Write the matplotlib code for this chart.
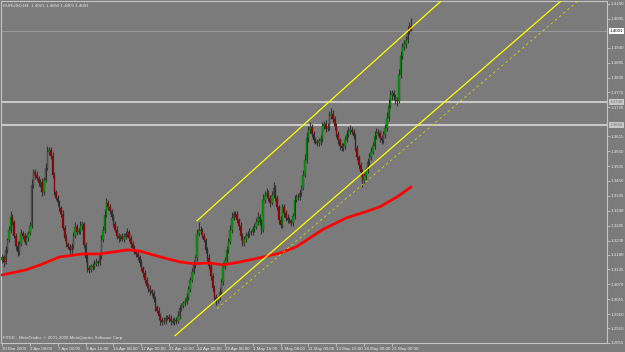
import numpy as np
import matplotlib.pyplot as plt
import matplotlib.transforms as mtransforms

# EURUSD H4 closes (one per bar)
closes = [
    1.3171, 1.3153, 1.3197, 1.3234, 1.3271, 1.3318, 1.3300, 1.3249, 1.3212, 1.3190, 1.3219, 1.3260, 1.3249, 1.3227, 1.3241, 1.3260, 1.3285, 1.3436, 1.3484, 1.3473,
    1.3462, 1.3443, 1.3447, 1.3410, 1.3454, 1.3498, 1.3557, 1.3564, 1.3542, 1.3473, 1.3410, 1.3388, 1.3373, 1.3351, 1.3329, 1.3278, 1.3241, 1.3219, 1.3208, 1.3197,
    1.3212, 1.3249, 1.3282, 1.3263, 1.3267, 1.3285, 1.3293, 1.3215, 1.3168, 1.3131, 1.3124, 1.3138, 1.3135, 1.3146, 1.3153, 1.3149, 1.3175, 1.3234, 1.3271, 1.3326,
    1.3370, 1.3355, 1.3340, 1.3318, 1.3293, 1.3271, 1.3249, 1.3241, 1.3249, 1.3238, 1.3245, 1.3256, 1.3263, 1.3241, 1.3219, 1.3204, 1.3190, 1.3182, 1.3171, 1.3149,
    1.3131, 1.3113, 1.3087, 1.3065, 1.3054, 1.3046, 1.3039, 1.3017, 1.2988, 1.2973, 1.2955, 1.2940, 1.2933, 1.2937, 1.2948, 1.2951, 1.2944, 1.2937, 1.2933, 1.2940,
    1.2937, 1.2955, 1.2984, 1.2991, 1.3002, 1.3006, 1.3024, 1.3054, 1.3087, 1.3116, 1.3142, 1.3168, 1.3256, 1.3271, 1.3267, 1.3249, 1.3234, 1.3197, 1.3168, 1.3138,
    1.3102, 1.3057, 1.3024, 1.3014, 1.3021, 1.3043, 1.3080, 1.3135, 1.3160, 1.3197, 1.3227, 1.3271, 1.3315, 1.3329, 1.3329, 1.3307, 1.3285, 1.3249, 1.3223, 1.3238,
    1.3249, 1.3256, 1.3263, 1.3263, 1.3274, 1.3282, 1.3300, 1.3318, 1.3300, 1.3271, 1.3381, 1.3396, 1.3406, 1.3388, 1.3370, 1.3399, 1.3425, 1.3388, 1.3355, 1.3307,
    1.3289, 1.3355, 1.3333, 1.3315, 1.3307, 1.3304, 1.3296, 1.3322, 1.3381, 1.3392, 1.3392, 1.3406, 1.3425, 1.3473, 1.3528, 1.3609, 1.3638, 1.3649, 1.3623, 1.3601,
    1.3594, 1.3590, 1.3597, 1.3605, 1.3653, 1.3660, 1.3642, 1.3649, 1.3689, 1.3697, 1.3679, 1.3653, 1.3623, 1.3601, 1.3579, 1.3572, 1.3579, 1.3601, 1.3623, 1.3634,
    1.3638, 1.3631, 1.3616, 1.3572, 1.3539, 1.3509, 1.3484, 1.3454, 1.3469, 1.3491, 1.3520, 1.3539, 1.3557, 1.3579, 1.3616, 1.3631, 1.3627, 1.3609, 1.3601, 1.3623,
    1.3645, 1.3682, 1.3726, 1.3766, 1.3773, 1.3762, 1.3748, 1.3744, 1.3839, 1.3909, 1.3942, 1.3953, 1.3968, 1.4001, 1.4021, 1.4001,
]
first_open = 1.3160

# wick lengths above / below the body, in pips
wick_up = [
    12, 9, 15, 8, 14, 20, 10, 7, 11, 16, 9, 13, 8, 10, 12, 7, 14, 22, 11, 9,
    13, 8, 10, 15, 12, 18, 20, 9, 11, 14, 10, 8, 12, 9, 7, 13, 10, 15, 8, 11,
    9, 14, 16, 10, 12, 18, 9, 8, 11, 13, 10, 7, 9, 12, 14, 8, 10, 16, 13, 20,
    18, 9, 11, 8, 12, 10, 14, 9, 7, 11, 13, 10, 15, 8, 9, 12, 10, 7, 11, 9,
    13, 8, 10, 12, 9, 14, 7, 11, 10, 8, 13, 9, 12, 15, 10, 8, 11, 14, 9, 10,
    12, 16, 9, 11, 8, 13, 15, 10, 12, 14, 16, 11, 18, 30, 12, 9, 10, 8, 11, 13,
    7, 9, 12, 10, 8, 14, 11, 16, 12, 15, 13, 18, 20, 12, 9, 10, 8, 13, 11, 9,
    12, 10, 14, 8, 11, 13, 15, 18, 9, 10, 22, 16, 18, 10, 12, 14, 20, 9, 11, 8,
    13, 10, 12, 9, 14, 11, 8, 12, 16, 10, 13, 15, 12, 18, 20, 22, 14, 16, 10, 9,
    11, 12, 10, 14, 12, 9, 15, 13, 18, 22, 12, 10, 9, 11, 8, 12, 10, 14, 15, 13,
    16, 12, 9, 10, 11, 8, 12, 10, 9, 11, 13, 12, 16, 14, 18, 12, 11, 10, 9, 12,
    16, 20, 24, 18, 12, 10, 9, 11, 22, 18, 15, 14, 16, 20, 14, 29,
]
wick_dn = [
    10, 18, 9, 12, 8, 11, 13, 9, 15, 14, 10, 8, 12, 9, 11, 13, 10, 8, 12, 15,
    9, 11, 14, 16, 10, 8, 9, 12, 10, 13, 11, 9, 14, 10, 12, 8, 11, 13, 9, 14,
    12, 10, 8, 11, 9, 10, 14, 12, 15, 16, 11, 9, 13, 10, 8, 12, 9, 10, 8, 11,
    9, 12, 10, 13, 11, 9, 12, 14, 10, 8, 11, 9, 10, 12, 14, 10, 9, 11, 13, 12,
    10, 14, 12, 9, 11, 13, 10, 12, 15, 9, 14, 18, 12, 10, 11, 9, 13, 16, 10, 12,
    11, 9, 12, 10, 8, 11, 9, 10, 12, 8, 9, 10, 12, 9, 11, 10, 8, 12, 13, 11,
    14, 16, 15, 20, 12, 9, 10, 11, 8, 12, 10, 9, 11, 8, 12, 10, 14, 16, 12, 10,
    11, 9, 12, 10, 13, 11, 9, 12, 10, 15, 9, 11, 10, 12, 14, 9, 10, 12, 11, 16,
    13, 10, 14, 12, 11, 9, 12, 10, 13, 9, 12, 11, 10, 8, 9, 12, 14, 11, 13, 12,
    10, 11, 12, 14, 12, 13, 11, 9, 10, 12, 11, 14, 12, 16, 15, 13, 12, 10, 9, 11,
    12, 10, 11, 13, 12, 14, 16, 26, 12, 14, 12, 10, 11, 9, 10, 12, 11, 14, 15, 13,
    16, 10, 12, 9, 18, 14, 16, 20, 9, 10, 12, 11, 13, 10, 12, 1,
]

# red moving average, sampled at bar indices
ma_bar = [0, 14, 22, 33, 46, 56, 72, 79, 91, 102, 110, 119, 127, 137, 150, 160, 169, 184, 198, 207, 217, 227, 235]
ma_price = [1.3105, 1.3124, 1.3142, 1.3171, 1.3182, 1.3182, 1.3197, 1.3193, 1.3171, 1.3153, 1.3146, 1.3149,
            1.3142, 1.3153, 1.3171, 1.3186, 1.3208, 1.3271, 1.3315, 1.3333, 1.3355, 1.3392, 1.3428]

# channel rays: start point and a second point (bar, price)
ch_upper = [(112, 1.3304), (234.3, 1.4008)]
ch_lower = [(99.4, 1.2882), (234.3, 1.3630)]
ch_mid = [(123.5, 1.2981), (234.3, 1.3585)]

hlines_price = [1.3740, 1.3656]
last_price = 1.4001

price_ticks = [1.4100, 1.4045, 1.3940, 1.3885, 1.3830, 1.3775, 1.3720, 1.3615, 1.3560, 1.3505, 1.3450,
               1.3395, 1.3340, 1.3285, 1.3230, 1.3180, 1.3125, 1.3070, 1.3015, 1.2960, 1.2910, 1.2855]
time_labels = ["30 Mar 2009", "2 Apr 08:00", "7 Apr 00:00", "9 Apr 16:00", "14 Apr 08:00", "17 Apr 00:00",
               "21 Apr 16:00", "24 Apr 08:00", "29 Apr 00:00", "1 May 16:00", "6 May 08:00", "11 May 00:00",
               "13 May 16:00", "18 May 08:00", "21 May 00:00"]
bars_per_label = 16

BG = '#7b7b7b'
FG = '#e8e8e8'
FRAME = '#c4c4c4'
FS = 3.2

plt.rcParams['font.family'] = ['Liberation Sans', 'DejaVu Sans']

n = min(len(closes), len(wick_up), len(wick_dn))
c = np.array(closes[:n])
o = np.r_[first_open, c[:-1]]
hi = np.maximum(o, c) + np.array(wick_up[:n]) * 1e-4
lo = np.minimum(o, c) - np.array(wick_dn[:n]) * 1e-4
x = np.arange(n)

fig = plt.figure(figsize=(6.25, 3.52), dpi=100)
fig.patch.set_facecolor(BG)
ax = fig.add_axes([1 / 625, 9 / 352, 606 / 625, 342 / 352])
ax.set_facecolor(BG)
ax.set_xlim(-0.6, 347.5)
ax.set_ylim(1.2856, 1.4111)

# horizontal lines
ax.axhline(last_price, color='#a4a8b0', lw=0.5, zorder=1)
for p in hlines_price:
    ax.axhline(p, color='#c8c8c8', lw=1.5, zorder=1)

# candles
ax.vlines(x, lo, hi, color='#333333', lw=0.8, zorder=2)
colors = np.where(c >= o, '#00a000', '#a00000')
ax.bar(x, c - o, bottom=o, width=0.85, color=colors, edgecolor='#2a2a2a', linewidth=0.2, zorder=3)

# moving average
ax.plot(ma_bar, ma_price, color='#ff0000', lw=1.9, zorder=4, solid_capstyle='round', solid_joinstyle='round')


def ray(pts, **kw):
    (x0, y0), (x1, y1) = pts
    slope = (y1 - y0) / (x1 - x0)
    xe = 400.0
    ax.plot([x0, xe], [y0, y0 + slope * (xe - x0)], **kw)


ray(ch_upper, color='#ffff00', lw=0.9, zorder=5)
ray(ch_lower, color='#ffff00', lw=0.9, zorder=5)
ray(ch_mid, color='#d8d800', lw=0.6, dashes=(3.0, 3.5), zorder=5)

# axes styling
for s in ax.spines.values():
    s.set_color(FRAME)
    s.set_linewidth(0.8)
ax.yaxis.tick_right()
ax.set_yticks(price_ticks)
ax.set_yticklabels([f'{p:.4f}' for p in price_ticks])
ax.set_xticks([i * bars_per_label for i in range(len(time_labels))])
ax.set_xticklabels(time_labels, ha='left')
ax.tick_params(axis='both', colors=FRAME, labelcolor=FG, labelsize=FS, length=2, width=0.6, pad=0.8)

# highlighted price labels on the scale
tr = mtransforms.blended_transform_factory(ax.transAxes, ax.transData)
ax.text(1.004, last_price, f'{last_price:.4f}', transform=tr, fontsize=FS, color='black',
        va='center', ha='left', bbox=dict(boxstyle='square,pad=0.2', fc='white', ec='none'), clip_on=False)
for p in hlines_price:
    ax.text(1.004, p, f'{p:.4f}', transform=tr, fontsize=FS, color='#707070',
            va='center', ha='left', bbox=dict(boxstyle='square,pad=0.2', fc='#c8c8c8', ec='none'), clip_on=False)

ax.text(0.004, 0.994, f'EURUSD,H4  {o[-1]:.4f} {hi[-1]:.4f} {lo[-1]:.4f} {c[-1]:.4f}', transform=ax.transAxes,
        fontsize=FS, color=FG, va='top', ha='left')
ax.text(0.004, 0.008, 'FXDD - MetaTrader, \u00a9 2001-2008 MetaQuotes Software Corp.', transform=ax.transAxes,
        fontsize=FS, color=FG, va='bottom', ha='left')

fig.savefig('out.png', dpi=100, facecolor=BG)
